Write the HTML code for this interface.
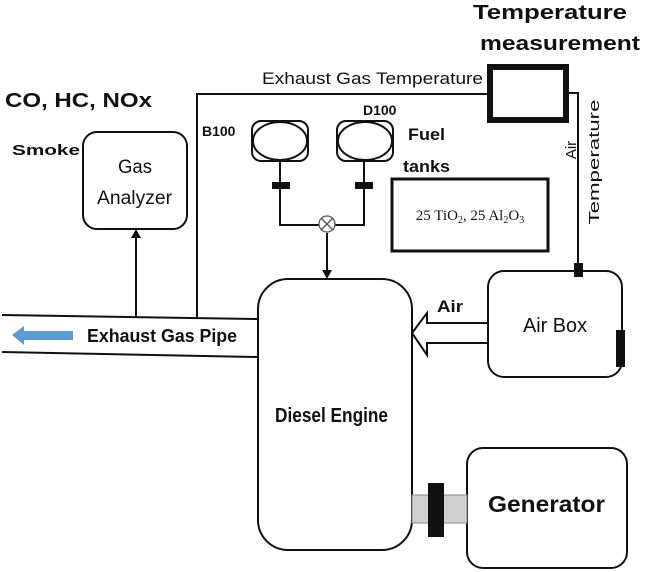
<!DOCTYPE html>
<html><head><meta charset="utf-8"><style>
html,body{margin:0;padding:0;background:#fff;overflow:hidden;}
svg{display:block;}
text{font-family:"Liberation Sans",sans-serif;fill:#111;}
</style></head><body>
<svg width="645" height="572" viewBox="0 0 645 572" xmlns="http://www.w3.org/2000/svg">
<g fill="none" stroke="#111" stroke-width="2">
  <line x1="2" y1="315" x2="258" y2="319"/>
  <line x1="2" y1="352" x2="258" y2="357"/>
  <rect x="258" y="279" width="154" height="271" rx="30"/>
  <rect x="83" y="132" width="104" height="97" rx="14"/>
  <line x1="136" y1="316" x2="136" y2="236"/>
  <polyline points="197,317 197,94 488,94"/>
  <rect x="490" y="67" width="76" height="53" stroke-width="6"/>
  <polyline points="569,93 578,93 578,270"/>
  <rect x="488" y="271" width="134" height="106" rx="16"/>
  <rect x="467" y="448" width="160" height="120" rx="16"/>
  <rect x="252" y="121" width="56" height="40" rx="9"/>
  <ellipse cx="280" cy="141" rx="27" ry="19"/>
  <rect x="337" y="121" width="56" height="40" rx="9"/>
  <ellipse cx="365" cy="141" rx="27" ry="19"/>
  <polyline points="280,161 280,225 364,225 364,161"/>
  <line x1="327" y1="233" x2="327" y2="272"/>
  <rect x="392" y="179" width="156" height="72" stroke-width="3"/>
  <polyline points="488,323 427,323 427,313 412,333 427,355 427,343 488,343"/>
</g>
<circle cx="327" cy="224" r="8" fill="#fff" stroke="#555" stroke-width="1.3"/>
<line x1="321" y1="218" x2="333" y2="230" stroke="#555" stroke-width="1.3"/>
<line x1="333" y1="218" x2="321" y2="230" stroke="#555" stroke-width="1.3"/>
<polygon points="322,270 332,270 327,279" fill="#111"/>
<polygon points="131,238 141,238 136,229" fill="#111"/>
<rect x="272" y="182" width="18" height="7" fill="#111"/>
<rect x="355" y="182" width="18" height="7" fill="#111"/>
<rect x="574" y="263" width="9" height="14" fill="#111"/>
<rect x="616" y="330" width="9" height="37" fill="#111"/>
<rect x="412" y="495" width="55" height="28" fill="#d0d0d0" stroke="#888" stroke-width="1"/>
<rect x="428" y="483" width="16" height="54" fill="#111"/>
<polygon points="12,335 24,326 24,331 73,331 73,340 24,340 24,345" fill="#5b9bd5"/>

<text x="473" y="19" font-size="20" font-weight="bold" textLength="154" lengthAdjust="spacingAndGlyphs">Temperature</text>
<text x="480" y="50" font-size="20" font-weight="bold" textLength="160" lengthAdjust="spacingAndGlyphs">measurement</text>
<text x="5" y="107" font-size="20" font-weight="bold" textLength="147" lengthAdjust="spacingAndGlyphs">CO, HC, NOx</text>
<text x="12" y="155" font-size="15" font-weight="bold" textLength="68" lengthAdjust="spacingAndGlyphs">Smoke</text>
<text x="118" y="173" font-size="19" textLength="34" lengthAdjust="spacingAndGlyphs">Gas</text>
<text x="97" y="204" font-size="19" textLength="75" lengthAdjust="spacingAndGlyphs">Analyzer</text>
<text x="262" y="84" font-size="17" fill="#333" textLength="221" lengthAdjust="spacingAndGlyphs">Exhaust Gas Temperature</text>
<text x="202" y="136" font-size="14" font-weight="bold" fill="#1a2a4a">B100</text>
<text x="363" y="115" font-size="14" font-weight="bold" fill="#1a2a4a">D100</text>
<text x="408" y="140" font-size="17" font-weight="bold" textLength="37" lengthAdjust="spacingAndGlyphs">Fuel</text>
<text x="403" y="172" font-size="17" font-weight="bold" textLength="47" lengthAdjust="spacingAndGlyphs">tanks</text>
<text x="470" y="220" font-size="15" text-anchor="middle" style="font-family:'Liberation Serif',serif">25 TiO<tspan font-size="10" dy="3">2</tspan><tspan dy="-3">, 25 Al</tspan><tspan font-size="10" dy="3">2</tspan><tspan dy="-3">O</tspan><tspan font-size="10" dy="3">3</tspan></text>
<text transform="translate(576,150) rotate(-90)" font-size="15" text-anchor="middle">Air</text>
<text transform="translate(599,162) rotate(-90)" font-size="15" text-anchor="middle" textLength="125" lengthAdjust="spacingAndGlyphs">Temperature</text>
<text x="437" y="312" font-size="17" font-weight="bold" textLength="26" lengthAdjust="spacingAndGlyphs">Air</text>
<text x="523" y="332" font-size="20" textLength="64" lengthAdjust="spacingAndGlyphs">Air Box</text>
<text x="87" y="342" font-size="18" font-weight="bold" textLength="150" lengthAdjust="spacingAndGlyphs">Exhaust Gas Pipe</text>
<text x="275" y="422" font-size="20" font-weight="bold" textLength="113" lengthAdjust="spacingAndGlyphs">Diesel Engine</text>
<text x="488" y="512" font-size="23" font-weight="bold" textLength="117" lengthAdjust="spacingAndGlyphs">Generator</text>
</svg>
</body></html>
